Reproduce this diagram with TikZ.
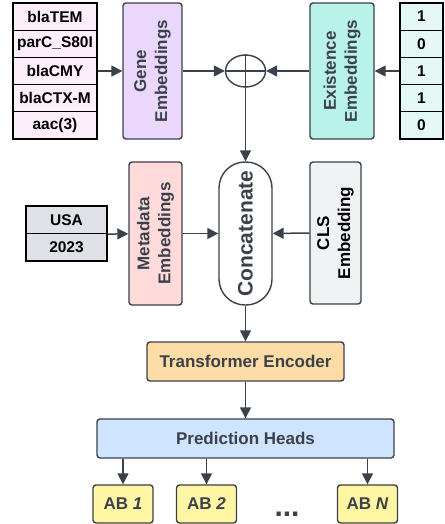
\documentclass[tikz,border=0pt]{standalone}
\usepackage{fontspec}
\setmainfont{Liberation Sans}
\usetikzlibrary{arrows.meta,shapes.geometric}

\definecolor{linegray}{HTML}{3A414A}
\definecolor{genecell}{HTML}{FDEFFA}
\definecolor{genefill}{HTML}{EAD7FB}
\definecolor{existcell}{HTML}{E4F9F6}
\definecolor{existfill}{HTML}{B9F2E8}
\definecolor{metafill}{HTML}{FFDADA}
\definecolor{clsfill}{HTML}{F1F2F4}
\definecolor{usafill}{HTML}{DFE1E6}
\definecolor{encfill}{HTML}{FEDCA6}
\definecolor{predfill}{HTML}{CFE4FE}
\definecolor{abfill}{HTML}{FFF5A3}

\tikzset{
  box/.style={draw=linegray, line width=1.4pt, rounded corners=3pt, inner sep=0pt,
    text=linegray, align=center, font=\bfseries\fontsize{17}{21}\selectfont},
  cell/.style={draw=black, line width=1.2pt, inner sep=0pt, minimum height=27.2pt,
    font=\bfseries\fontsize{15.5}{17}\selectfont},
  emb/.style={box, rotate=90, minimum width=136pt},
  flow/.style={draw=linegray, line width=1.5pt, -{Triangle[length=11pt,width=11pt]}},
}

\begin{document}
\begin{tikzpicture}[x=1pt, y=-1pt]
  \useasboundingbox (0,0) rectangle (444,524);

  %% gene list and existence list
  \foreach \g [count=\i] in {blaTEM,parC\_S80I,blaCMY,blaCTX-M,aac(3)}
    \node[cell, fill=genecell, minimum width=84pt] (g\i) at (55,{16.6+27.2*(\i-1)}) {\g};
  \foreach \v [count=\i] in {1,0,1,1,0}
    \node[cell, fill=existcell, minimum width=43pt] (e\i) at (421.5,{16.6+27.2*(\i-1)}) {\v};

  %% embeddings
  \node[emb, fill=genefill, minimum height=59pt] (gene) at (152.5,71) {Gene\\Embeddings};
  \node[emb, fill=existfill, minimum height=64pt] (exist) at (342,71) {Existence\\Embeddings};
  \node[draw=linegray, line width=1.4pt, ellipse, minimum width=40pt, minimum height=32pt, inner sep=0pt] (op) at (245.5,71) {};
  \draw[linegray, line width=1.4pt] (op.north) -- (op.south) (op.west) -- (op.east);

  %% metadata row
  \node[cell, fill=usafill, minimum width=81pt, minimum height=27.5pt] (usa) at (66.5,219.75) {USA};
  \node[cell, fill=usafill, minimum width=81pt, minimum height=27.5pt] (year) at (66.5,247.25) {2023};
  \node[emb, fill=metafill, minimum width=143pt, minimum height=53pt] (meta) at (155.5,233.5) {Metadata\\Embeddings};
  \node[box, rotate=90, fill=white, minimum width=143pt, minimum height=53pt, rounded corners=26pt,
    font=\bfseries\fontsize{21}{24}\selectfont] (concat) at (245.5,233.5) {Concatenate};
  \node[emb, fill=clsfill, text=black, minimum width=142pt, minimum height=51pt] (cls) at (335.5,233) {CLS\\Embedding};

  %% encoder and heads
  \node[box, fill=encfill, minimum width=197pt, minimum height=39pt] (enc) at (245.5,361.5) {Transformer Encoder};
  \node[box, fill=predfill, minimum width=297pt, minimum height=39pt] (pred) at (245.5,438.5) {Prediction Heads};
  \node[box, fill=abfill, minimum width=60pt, minimum height=38pt] (ab1) at (123,504) {AB \textit{1}};
  \node[box, fill=abfill, minimum width=60pt, minimum height=38pt] (ab2) at (206.5,504) {AB \textit{2}};
  \node[box, fill=abfill, minimum width=60pt, minimum height=38pt] (abn) at (367.5,504) {AB \textit{N}};
  \node[text=linegray, font=\bfseries\fontsize{30}{30}\selectfont] (dots) at (287,514) {...};

  %% connectors
  \draw[flow] (g3) -- (gene);
  \draw[flow] (gene) -- (op);
  \draw[flow] (e3) -- (exist);
  \draw[flow] (exist) -- (op);
  \draw[flow] (op) -- (concat);
  \draw[flow] (usa.south east) -- (meta);
  \draw[flow] (meta) -- (concat);
  \draw[flow] (cls) -- (concat);
  \draw[flow] (concat) -- (enc);
  \draw[flow] (enc) -- (pred);
  \foreach \a in {ab1,ab2,abn}
    \draw[flow] (pred.south -| \a) -- (\a);
\end{tikzpicture}
\end{document}
